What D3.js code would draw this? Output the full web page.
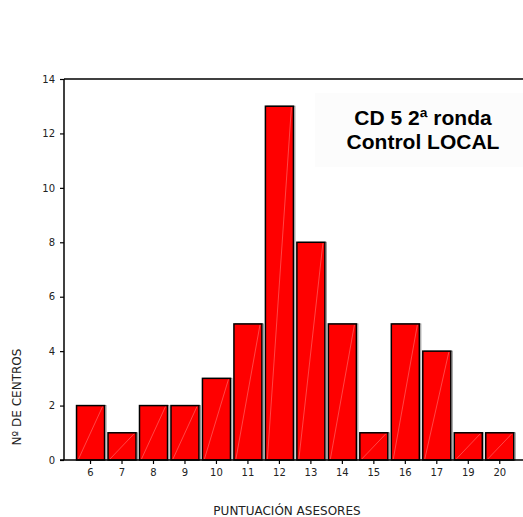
<!DOCTYPE html>
<html><head><meta charset="utf-8">
<script src="https://cdn.jsdelivr.net/npm/d3@7/dist/d3.min.js"></script>
<style>body{margin:0;background:#fff}svg{display:block}</style>
</head><body>
<script>
const categories = ["6","7","8","9","10","11","12","13","14","15","16","17","19","20"];
const values = [2,1,2,2,3,5,13,8,5,1,5,4,1,1];
const yTicks = [0,2,4,6,8,10,12,14];
const titleLines = ["CD 5 2ª ronda","Control LOCAL"];
const xTitle = "PUNTUACIÓN ASESORES";
const yTitle = "Nº DE CENTROS";

const W=523,H=517;
const svg=d3.select("body").append("svg").attr("width",W).attr("height",H);
const x=d3.scaleBand().domain(categories).range([74.8,515.5]).paddingInner(0.11).paddingOuter(0.055);
const y=d3.scaleLinear().domain([0,14]).range([460,79]);

// title box
svg.append("rect").attr("x",315).attr("y",93).attr("width",208).attr("height",74).attr("fill","#fcfcfc");
svg.append("text").attr("x",423).attr("y",125).attr("text-anchor","middle")
  .attr("font-family","Liberation Sans, Arial, sans-serif").attr("font-weight","bold").attr("font-size",21)
  .selectAll("tspan").data(titleLines).join("tspan").attr("x",423).attr("dy",(d,i)=>i?23.5:0).text(d=>d);

// top frame line
svg.append("line").attr("x1",64).attr("x2",523).attr("y1",y(14)).attr("y2",y(14)).attr("stroke","#000").attr("stroke-width",1.5);

// bars
const g=svg.append("g");
const data=categories.map((c,i)=>({c,v:values[i]}));
g.selectAll("rect.shadow").data(data).join("rect").attr("class","shadow")
  .attr("x",d=>x(d.c)+1.5).attr("y",d=>y(d.v)).attr("width",x.bandwidth()).attr("height",d=>y(0)-y(d.v))
  .attr("fill","none").attr("stroke","#999").attr("stroke-width",1);
g.selectAll("rect.bar").data(data).join("rect").attr("class","bar")
  .attr("x",d=>x(d.c)).attr("y",d=>y(d.v)).attr("width",x.bandwidth()).attr("height",d=>y(0)-y(d.v))
  .attr("fill","#ff0000").attr("stroke","#000").attr("stroke-width",1.5);
g.selectAll("line.diag").data(data).join("line").attr("class","diag")
  .attr("x1",d=>x(d.c)+2).attr("y1",y(0)-1).attr("x2",d=>x(d.c)+x.bandwidth()-2).attr("y2",d=>y(d.v)+1)
  .attr("stroke","#fff").attr("stroke-opacity",0.35).attr("stroke-width",0.8);

// axes
const font="DejaVu Sans, Verdana, sans-serif";
const ya=svg.append("g").attr("transform","translate(64,0)")
  .call(d3.axisLeft(y).tickValues(yTicks).tickSize(4).tickPadding(5).tickFormat(d3.format("d")));
const xa=svg.append("g").attr("transform",`translate(0,${y(0)})`)
  .call(d3.axisBottom(x).tickSize(4).tickPadding(5));
[ya,xa].forEach(a=>{a.selectAll("text").attr("font-family",font).attr("font-size",10).attr("fill","#222");
  a.selectAll("line").attr("stroke","#000").attr("stroke-width",1.2);
  a.select(".domain").remove();});
svg.append("line").attr("x1",64).attr("x2",64).attr("y1",y(14)).attr("y2",y(0)).attr("stroke","#000").attr("stroke-width",1.5);
svg.append("line").attr("x1",60).attr("x2",523).attr("y1",y(0)).attr("y2",y(0)).attr("stroke","#000").attr("stroke-width",1.5);

svg.append("text").attr("x",287).attr("y",515).attr("text-anchor","middle")
  .attr("font-family",font).attr("font-size",12).attr("fill","#222").text(xTitle);
svg.append("text").attr("transform","translate(21,397) rotate(-90)").attr("text-anchor","middle")
  .attr("font-family",font).attr("font-size",12).attr("fill","#222").text(yTitle);
</script>
</body></html>
